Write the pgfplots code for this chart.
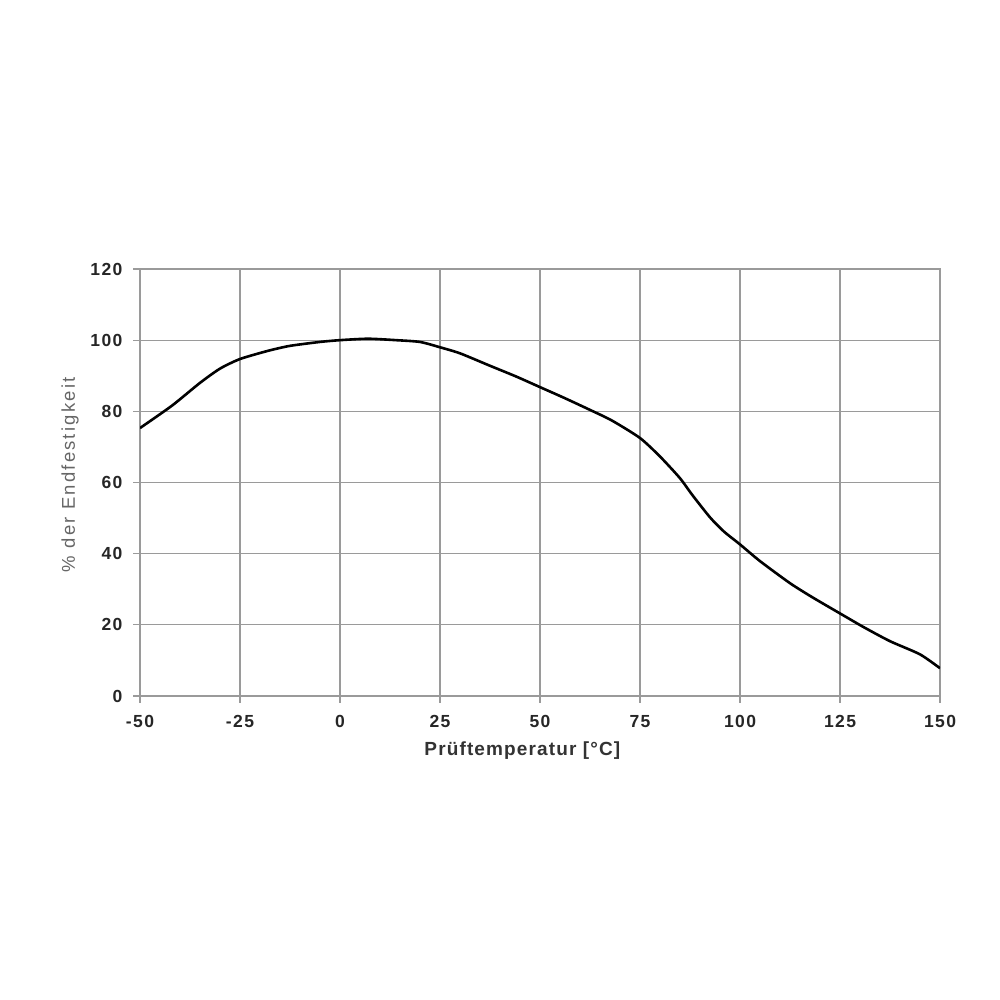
\documentclass[border=0pt]{standalone}
\usepackage{fontspec}
\setmainfont{Liberation Sans}
\newfontfamily\tickfont[LetterSpace=8]{Liberation Sans Bold}
\newfontfamily\labfont[LetterSpace=6]{Liberation Sans Bold}
\newfontfamily\ylabfont[LetterSpace=12]{Liberation Sans}
\usepackage{pgfplots}
\pgfplotsset{compat=1.18}
\definecolor{gridgray}{HTML}{9A9A9A}
\begin{document}
\begin{tikzpicture}[x=1pt,y=1pt]
\useasboundingbox (0,0) rectangle (1000,1000);
\begin{axis}[
  at={(140pt,304pt)}, anchor=south west,
  scale only axis, width=800pt, height=427pt,
  xmin=-50, xmax=150, ymin=0, ymax=120,
  xtick={-50,-25,...,150}, ytick={0,20,...,120},
  grid=major, grid style={gridgray, line width=1.3pt},
  axis line style={gridgray, line width=1.3pt},
  tick style={gridgray, line width=1.3pt},
  tick align=outside, major tick length=7pt,
  xtick pos=bottom, ytick pos=left,
  /pgf/number format/assume math mode=true,
  tick label style={font=\fontsize{17.5}{20}\selectfont\tickfont, text=black!85},
  yticklabel style={xshift=-7pt},
  xticklabel style={yshift=-9pt},
  xlabel={Prüftemperatur [°C]},
  ylabel={\% der Endfestigkeit},
  xlabel style={font=\fontsize{19}{22}\selectfont\labfont, text=black!80, at={(axis description cs:0.478,-0.128)}, anchor=center},
  ylabel style={font=\fontsize{18.5}{22}\selectfont\ylabfont, text=black!60, at={(axis description cs:-0.0875,0.518)}, anchor=center, rotate=0},
]
\addplot[black, line width=2.6pt, smooth, tension=0.4] coordinates {
(-50,75.3) (-42,81.6) (-35,88) (-30,92) (-25,94.7) (-18,97) (-12.5,98.4) (-5,99.5) (0,100) (7,100.4) (14,100) (20,99.5) (25,98) (30,96.3) (37.5,92.8) (44,89.8) (50,86.8) (56,83.8) (62.5,80.4) (68,77.4) (75,72.5) (80,67.3) (85,61.2) (88,56.6) (92.5,50.2) (96,46.2) (100,42.6) (105,37.9) (112.5,31.7) (118,27.8) (125,23.2) (131,19.3) (137.5,15.4) (145,11.7) (150,7.8)
};
\end{axis}
\end{tikzpicture}
\end{document}
